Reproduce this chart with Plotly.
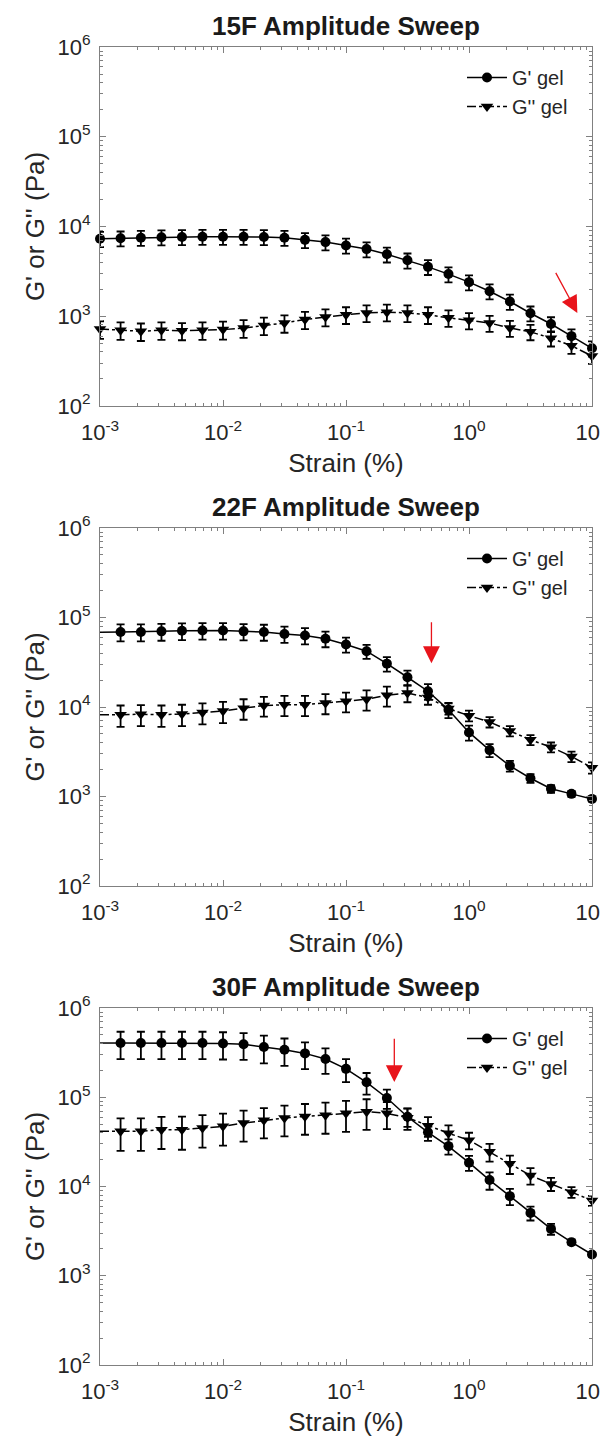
import math
import plotly.graph_objects as go

# ---------------- data ----------------
strain = [0.001, 0.00147, 0.00215, 0.00316, 0.00464, 0.00681,
          0.01, 0.0147, 0.0215, 0.0316, 0.0464, 0.0681,
          0.1, 0.147, 0.215, 0.316, 0.464, 0.681,
          1.0, 1.47, 2.15, 3.16, 4.64, 6.81, 10.0]

titles = ["15F Amplitude Sweep", "22F Amplitude Sweep", "30F Amplitude Sweep"]
series_names = ["G' gel", "G'' gel"]

g15_storage = [7300, 7400, 7500, 7600, 7650, 7700, 7700, 7700, 7650, 7500, 7100, 6700,
               6150, 5600, 4900, 4200, 3550, 2950, 2400, 1900, 1460, 1080, 820, 600, 440]
g15_storage_err = [1400, 1400, 1420, 1440, 1450, 1460, 1460, 1460, 1450, 1420, 1350, 1270,
                   1170, 1060, 930, 800, 670, 560, 455, 360, 280, 205, 155, 115, 85]
g15_loss = [720, 700, 680, 700, 690, 700, 710, 740, 790, 840, 920, 980,
            1040, 1090, 1110, 1090, 1040, 960, 900, 840, 740, 670, 570, 470, 360]
g15_loss_err = [160, 155, 150, 155, 150, 155, 160, 165, 175, 185, 200, 210,
                220, 230, 235, 230, 220, 200, 185, 170, 150, 130, 110, 90, 65]

g22_storage = [68500, 69000, 69000, 70000, 71000, 71500, 71500, 70000, 69000, 65500, 63000, 58000,
               50000, 42000, 30500, 21500, 15000, 9300, 5200, 3300, 2200, 1600, 1220, 1070, 940]
g22_storage_err = [15000, 15000, 15000, 15000, 15000, 15000, 15000, 14500, 14000, 13500, 13000, 11500,
                   9500, 7500, 5600, 4000, 3000, 1800, 1000, 550, 300, 180, 120, 80, 60]
g22_loss = [8200, 8200, 8300, 8200, 8350, 8700, 9000, 9700, 10400, 10600, 10600, 11100,
            11600, 12200, 13500, 14300, 12800, 9600, 8000, 6800, 5400, 4300, 3560, 2800, 2100]
g22_loss_err = [2200, 2200, 2200, 2200, 2250, 2300, 2400, 2500, 2600, 2700, 2700, 2800,
                2900, 3100, 3400, 3000, 2200, 1400, 1100, 900, 700, 550, 450, 380, 300]

g30_storage = [405000, 405000, 405000, 405000, 405000, 405000, 400000, 392000, 365000, 340000, 310000, 268000,
               208000, 147000, 98000, 60500, 40500, 28200, 18500, 11800, 7800, 5060, 3350, 2380, 1730]
g30_storage_err = [137000, 137000, 137000, 137000, 137000, 137000, 135000, 130000, 125000, 115000, 103000, 85000,
                   60000, 40000, 24000, 14000, 8000, 5500, 3500, 2600, 1600, 900, 470, 150, 100]
g30_loss = [41600, 41600, 41600, 43300, 43300, 45200, 47200, 51400, 55200, 58500, 61000, 63000,
            66000, 69000, 66000, 59000, 48000, 39500, 33000, 24500, 18000, 13300, 10700, 8640, 6970]
g30_loss_err = [16500, 16500, 16500, 17000, 17500, 18000, 18500, 19500, 20500, 22000, 23000, 24000,
                25000, 26000, 22000, 16000, 12000, 9000, 7000, 5500, 4200, 2800, 1800, 1200, 900]

first_marker = [0, 1, 1]   # index of the first point drawn with a marker

arrow_tail_strain = [5.0, 0.495, 0.247]
arrow_tail_modulus = [3160, 92000, 470000]
arrow_tip_strain = [7.6, 0.495, 0.247]
arrow_tip_modulus = [1090, 30900, 148000]

x_tick_vals = [1e-3, 1e-2, 1e-1, 1e0, 1e1]
x_tick_text = ["10<sup>-3</sup>", "10<sup>-2</sup>", "10<sup>-1</sup>", "10<sup>0</sup>", "10<sup>1</sup>"]
y_tick_vals = [1e2, 1e3, 1e4, 1e5, 1e6]
y_tick_text = ["10<sup>2</sup>", "10<sup>3</sup>", "10<sup>4</sup>", "10<sup>5</sup>", "10<sup>6</sup>"]

panels = [
    (g15_storage, g15_storage_err, g15_loss, g15_loss_err),
    (g22_storage, g22_storage_err, g22_loss, g22_loss_err),
    (g30_storage, g30_storage_err, g30_loss, g30_loss_err),
]

# ---------------- layout geometry ----------------
W, H = 608, 1439
L, R, T, B = 92, 24, 39, 82
PH = H - T - B
PW = W - L - R


def py(y):
    return (H - B - y) / PH


def px(x):
    return (x - L) / PW


tops = [39, 520, 1000]
bottoms = [398, 878, 1357]
FONT = "Liberation Sans, Arial, sans-serif"
AX_COLOR = "#808080"
TXT = "#262626"

minor_x = [m * 10 ** e for e in range(-3, 1) for m in range(2, 10)]
minor_y = [m * 10 ** e for e in range(2, 6) for m in range(2, 10)]

fig = go.Figure()
layout = dict(
    width=W, height=H,
    margin=dict(l=L, r=R, t=T, b=B, autoexpand=False),
    paper_bgcolor="white", plot_bgcolor="white",
    font=dict(family=FONT, color=TXT),
    annotations=[],
)

for i, (gs, gse, gl, gle) in enumerate(panels):
    n = "" if i == 0 else str(i + 1)
    xa, ya = "x" + n, "y" + n
    lg = "legend" + n
    s = first_marker[i]
    if s > 0:
        fig.add_trace(go.Scatter(x=strain[:s + 1], y=gs[:s + 1], mode="lines",
                                 line=dict(color="black", width=1.5), showlegend=False,
                                 hoverinfo="skip", xaxis=xa, yaxis=ya))
        fig.add_trace(go.Scatter(x=strain[:s + 1], y=gl[:s + 1], mode="lines",
                                 line=dict(color="black", width=1.5, dash="dashdot"), showlegend=False,
                                 hoverinfo="skip", xaxis=xa, yaxis=ya))
    fig.add_trace(go.Scatter(
        x=strain[s:], y=gs[s:], name=series_names[0], mode="lines+markers",
        line=dict(color="black", width=1.5),
        marker=dict(symbol="circle", size=10, color="black"),
        error_y=dict(type="data", array=gse[s:], color="black", thickness=1.8, width=4),
        xaxis=xa, yaxis=ya, legend=lg, cliponaxis=False))
    fig.add_trace(go.Scatter(
        x=strain[s:], y=gl[s:], name=series_names[1], mode="lines+markers",
        line=dict(color="black", width=1.5, dash="dashdot"),
        marker=dict(symbol="triangle-down", size=11, color="black"),
        error_y=dict(type="data", array=gle[s:], color="black", thickness=1.8, width=4),
        xaxis=xa, yaxis=ya, legend=lg, cliponaxis=False))

    dom = [py(bottoms[i]), py(tops[i])]
    layout["xaxis" + n] = dict(
        type="log", range=[-3, 1], domain=[0, 1], anchor=ya,
        showline=True, linecolor=AX_COLOR, linewidth=1, mirror="ticks",
        ticks="inside", ticklen=6, tickcolor=AX_COLOR, tickwidth=1,
        tickmode="array", tickvals=x_tick_vals, ticktext=x_tick_text,
        tickfont=dict(size=22, family=FONT, color=TXT), ticklabelstandoff=7,
        minor=dict(tickmode="array", tickvals=minor_x, ticks="inside", ticklen=3,
                   tickcolor=AX_COLOR, showgrid=False),
        showgrid=False, zeroline=False, automargin=False,
        title=dict(text="Strain (%)", font=dict(size=26, family=FONT, color=TXT), standoff=9),
    )
    layout["yaxis" + n] = dict(
        type="log", range=[2, 6], domain=dom, anchor=xa,
        showline=True, linecolor=AX_COLOR, linewidth=1, mirror="ticks",
        ticks="inside", ticklen=6, tickcolor=AX_COLOR, tickwidth=1,
        tickmode="array", tickvals=y_tick_vals, ticktext=y_tick_text,
        tickfont=dict(size=22, family=FONT, color=TXT), ticklabelstandoff=4,
        minor=dict(tickmode="array", tickvals=minor_y, ticks="inside", ticklen=3,
                   tickcolor=AX_COLOR, showgrid=False),
        showgrid=False, zeroline=False, automargin=False,
        title=dict(text="G' or G'' (Pa)", font=dict(size=26, family=FONT, color=TXT), standoff=5),
    )
    layout[lg] = dict(
        x=px(454), y=py(tops[i] + 11), xanchor="left", yanchor="top",
        bgcolor="rgba(0,0,0,0)", borderwidth=0,
        font=dict(size=20, family=FONT, color=TXT),
        itemwidth=40, tracegroupgap=0,
    )
    layout["annotations"].append(dict(
        text="<b>" + titles[i] + "</b>", xref="paper", yref="paper",
        x=0.5, y=py(tops[i] - 21), xanchor="center", yanchor="middle",
        showarrow=False, font=dict(size=26, family=FONT, color="#1a1a1a")))
    layout["annotations"].append(dict(
        xref=xa, yref=ya, axref=xa, ayref=ya,
        x=math.log10(arrow_tip_strain[i]), y=math.log10(arrow_tip_modulus[i]),
        ax=math.log10(arrow_tail_strain[i]), ay=math.log10(arrow_tail_modulus[i]),
        showarrow=True, arrowhead=2, arrowsize=2.6, arrowwidth=1.3, arrowcolor="#e8141b",
        text=""))

fig.update_layout(**layout)
fig.write_html("out.html")
